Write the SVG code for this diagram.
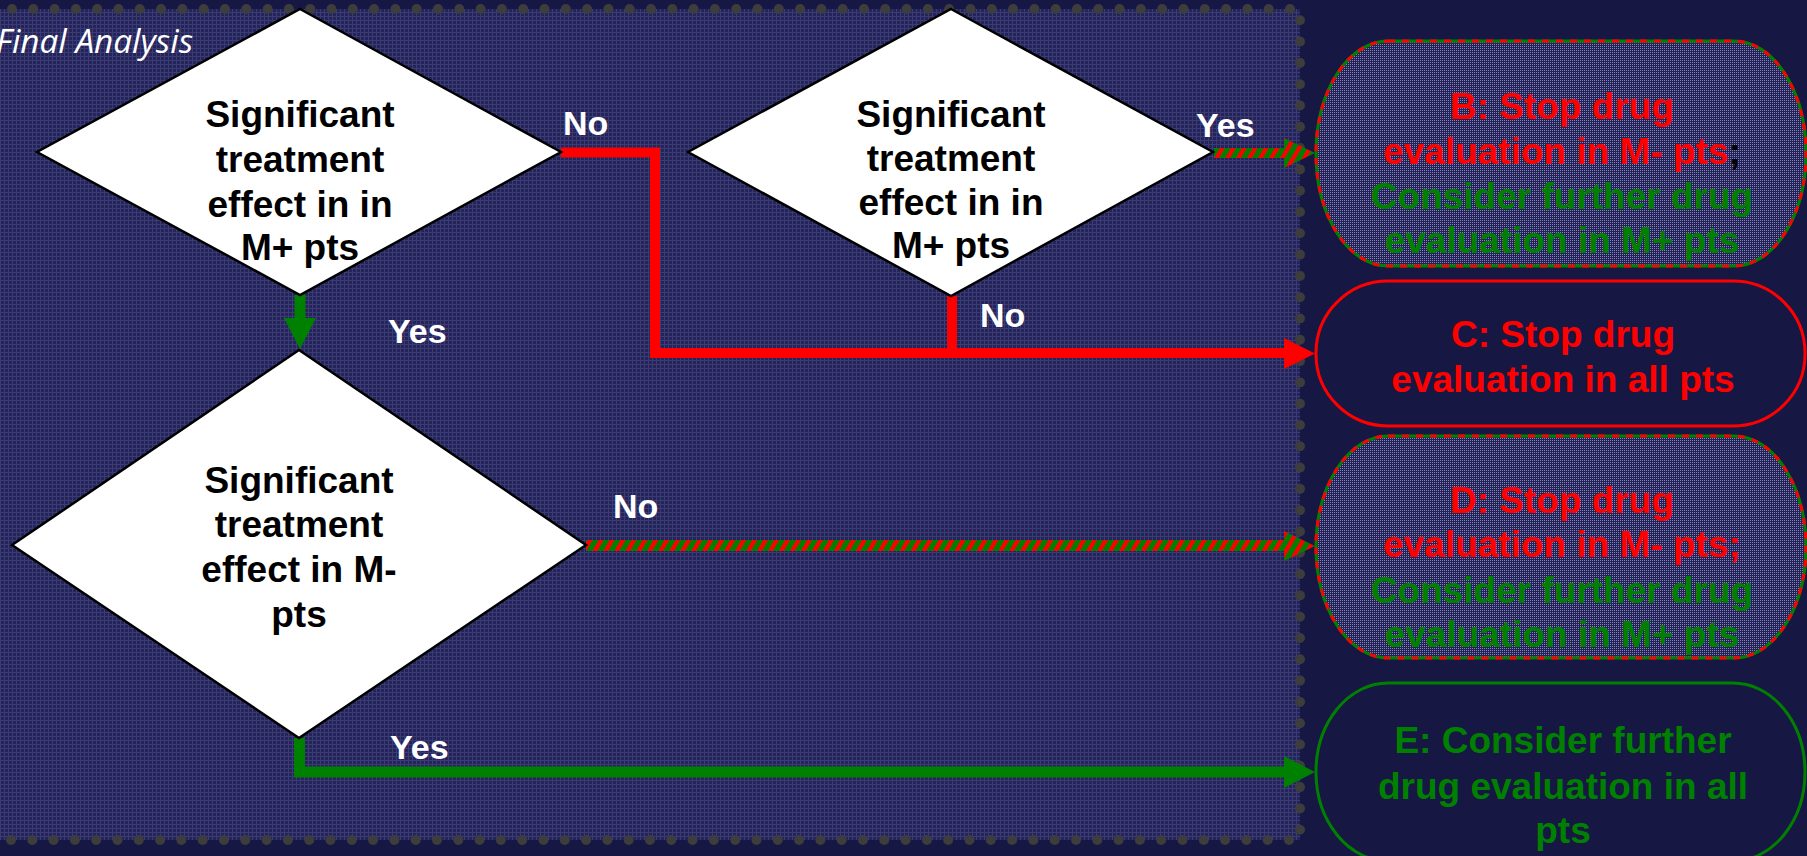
<svg xmlns="http://www.w3.org/2000/svg" width="1807" height="856" viewBox="0 0 1807 856">
<defs>
<pattern id="panelTex" patternUnits="userSpaceOnUse" width="4" height="4">
<rect width="4" height="4" fill="#24245a"/>
<rect width="4" height="1" fill="#3c3c74"/>
<rect width="1" height="4" fill="#3c3c74"/>
</pattern>
<pattern id="nodeTex" patternUnits="userSpaceOnUse" width="2" height="2">
<rect width="2" height="2" fill="#222258"/>
<rect width="1" height="1" fill="#8585b5"/>
</pattern>
<pattern id="stripes" patternUnits="userSpaceOnUse" width="9.5" height="9.5" patternTransform="rotate(30)">
<rect width="9.5" height="9.5" fill="#008000"/>
<rect width="4.2" height="9.5" fill="#ff0000"/>
</pattern>
<style>
.dia{fill:#ffffff;stroke:#000000;stroke-width:2.5;stroke-linejoin:miter}
.dt{font-family:"Liberation Sans",Arial,sans-serif;font-weight:bold;font-size:37px;fill:#000000;text-anchor:middle}
.lbl{font-family:"Liberation Sans",Arial,sans-serif;font-weight:bold;font-size:34px;fill:#ffffff}
.nt{font-family:"Liberation Sans",Arial,sans-serif;font-weight:bold;font-size:37px;text-anchor:middle}
.r{fill:#ff0000}
.g{fill:#008000}
.k{fill:#000000}
.redline{fill:none;stroke:#ff0000;stroke-width:10;stroke-linejoin:miter}
.greenline{fill:none;stroke:#008000;stroke-width:11;stroke-linejoin:miter}
.mixborder{fill:url(#nodeTex);stroke:#008000;stroke-width:3}
.mixdash{fill:none;stroke:#ff0000;stroke-width:3;stroke-dasharray:7 7}
</style>
</defs>
<rect x="0" y="0" width="1807" height="856" fill="#171743"/>
<rect x="-10" y="9" width="1310" height="831" fill="url(#panelTex)"/>
<path d="M12 9 H1300 V840 H0" fill="none" stroke="#3d3d3d" stroke-width="10" stroke-linecap="round" stroke-dasharray="0 21.3"/>
<text x="-4" y="53" font-family="Open Sans, sans-serif" font-style="italic" font-size="32" fill="#ffffff" textLength="197" lengthAdjust="spacingAndGlyphs">Final Analysis</text>

<g id="connectors">
<path class="redline" d="M561 152.5 H655 V353 H1286"/>
<path class="redline" d="M952 296 V353"/>
<polygon class="r" points="1284,338 1315,353.5 1284,369"/>
<path class="greenline" d="M300 295 V320"/>
<polygon class="g" points="284,318 316,318 300,349"/>
<path class="greenline" d="M299.5 738 V772 H1286"/>
<polygon class="g" points="1284,756 1315,772 1284,788"/>
<rect x="1214" y="148" width="72" height="10" fill="url(#stripes)"/>
<polygon points="1284,138 1315,153 1284,168" fill="url(#stripes)"/>
<rect x="586" y="540" width="700" height="11" fill="url(#stripes)"/>
<polygon points="1284,531 1315,546 1284,561" fill="url(#stripes)"/>
<text class="lbl" x="563" y="135">No</text>
<text class="lbl" x="388" y="343">Yes</text>
<text class="lbl" x="1196" y="137">Yes</text>
<text class="lbl" x="980" y="327">No</text>
<text class="lbl" x="613" y="518">No</text>
<text class="lbl" x="390" y="759">Yes</text>
</g>

<g id="d1">
<polygon class="dia" points="300,9 561,152 300,295 37,152"/>
<text class="dt" x="300" y="127">Significant</text>
<text class="dt" x="300" y="172">treatment</text>
<text class="dt" x="300" y="217">effect in in</text>
<text class="dt" x="300" y="260">M+ pts</text>
</g>
<g id="d3">
<polygon class="dia" points="951,9 1213,152 951,296 688,152"/>
<text class="dt" x="951" y="127">Significant</text>
<text class="dt" x="951" y="171">treatment</text>
<text class="dt" x="951" y="215">effect in in</text>
<text class="dt" x="951" y="258">M+ pts</text>
</g>
<g id="d2">
<polygon class="dia" points="299,350 586,545 299,738 12,545"/>
<text class="dt" x="299" y="493">Significant</text>
<text class="dt" x="299" y="537">treatment</text>
<text class="dt" x="299" y="582">effect in M-</text>
<text class="dt" x="299" y="627">pts</text>
</g>

<g id="nodeB">
<rect class="mixborder" x="1316" y="41" width="490" height="225" rx="72" ry="112"/>
<rect class="mixdash" x="1316" y="41" width="490" height="225" rx="72" ry="112"/>
<text class="nt r" x="1562" y="119">B: Stop drug</text>
<text class="nt" x="1562" y="164"><tspan class="r">evaluation in M- pts</tspan><tspan class="k">;</tspan></text>
<text class="nt g" x="1562" y="209">Consider further drug</text>
<text class="nt g" x="1562" y="253">evaluation in M+ pts</text>
</g>
<g id="nodeC">
<rect x="1316" y="281" width="489" height="145" rx="72" ry="72" fill="#171743" stroke="#ff0000" stroke-width="3"/>
<text class="nt r" x="1563" y="347">C: Stop drug</text>
<text class="nt r" x="1563" y="392">evaluation in all pts</text>
</g>
<g id="nodeD">
<rect class="mixborder" x="1316" y="436" width="490" height="222" rx="72" ry="111"/>
<rect class="mixdash" x="1316" y="436" width="490" height="222" rx="72" ry="111"/>
<text class="nt r" x="1562" y="513">D: Stop drug</text>
<text class="nt r" x="1562" y="557">evaluation in M- pts;</text>
<text class="nt g" x="1562" y="603">Consider further drug</text>
<text class="nt g" x="1562" y="647">evaluation in M+ pts</text>
</g>
<g id="nodeE">
<rect x="1316" y="683" width="489" height="178" rx="72" ry="89" fill="#171743" stroke="#008000" stroke-width="3"/>
<text class="nt g" x="1563" y="753">E: Consider further</text>
<text class="nt g" x="1563" y="799">drug evaluation in all</text>
<text class="nt g" x="1563" y="843">pts</text>
</g>
</svg>
